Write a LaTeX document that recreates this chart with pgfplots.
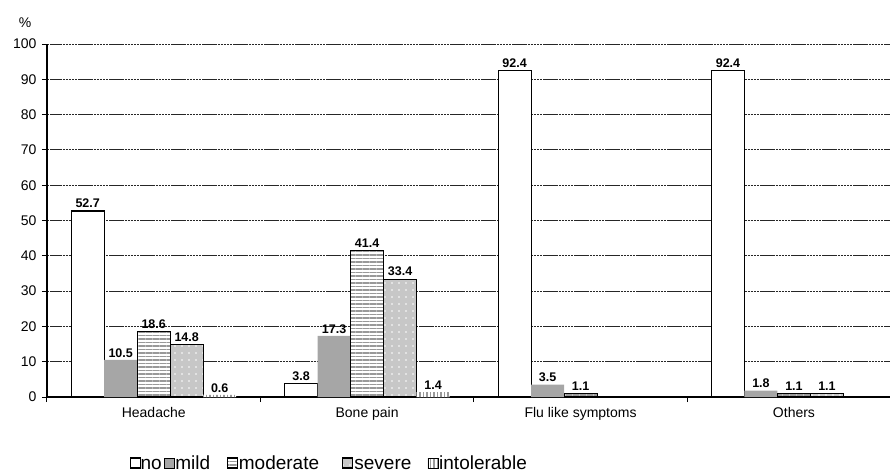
\documentclass[border=0pt]{standalone}
\usepackage{fontspec}
\setmainfont{Liberation Sans}
\usepackage{pgfplots}
\pgfplotsset{compat=1.18}
\usetikzlibrary{patterns.meta}
\newcommand{\legtxt}[2]{\raisebox{0pt}[14pt][4pt]{\makebox[#1][l]{#2}}}

\begin{document}
\begin{tikzpicture}
\begin{axis}[
  name=ax,
  at={(0pt,0pt)}, anchor=south west,
  scale only axis, width=843pt, height=353pt,
  xmin=-0.5, xmax=3.45, ymin=0, ymax=100,
  ybar=0pt, bar width=33pt,
  axis lines*=left,
  axis line style={black, line width=1.3pt},
  ytick={0,10,...,100},
  ymajorgrids,
  major grid style={black!85, line width=0.9pt, dash pattern=on 2.5pt off 0.6pt},
  tick align=outside,
  major tick length=5pt,
  tick style={black, line width=1pt},
  xtick={-0.5,0.5,1.5,2.5},
  xticklabels={},
  extra x ticks={0,1,2,3},
  extra x tick labels={Headache,Bone pain,Flu like symptoms,Others},
  extra x tick style={major tick length=0pt},
  x tick label style={font=\fontsize{14}{16}\selectfont, yshift=-7pt},
  y tick label style={font=\fontsize{14}{16}\selectfont, xshift=-2pt},
  /pgf/number format/assume math mode=true,
  nodes near coords,
  nodes near coords style={font=\fontsize{12.5}{14}\selectfont\bfseries,
     /pgf/number format/fixed, /pgf/number format/fixed zerofill,
     /pgf/number format/precision=1, inner sep=2.5pt},
  legend image code/.code={\draw[#1] (0pt,-5pt) rectangle (10pt,5pt);},
  legend style={at={(axis description cs:0.095,-0.187)}, anchor=west,
     draw=none, fill=none, legend columns=5,
     font=\fontsize{19}{22}\selectfont,
     /tikz/every even column/.append style={column sep=0pt},
     /tikz/every odd column/.append style={column sep=0pt},
     nodes={inner sep=1.2pt}},
]
\addplot[draw=black, fill=white, line width=1.1pt]
  coordinates {(0,52.7) (1,3.8) (2,92.4) (3,92.4)};
\addplot[draw=none, fill=black!35]
  coordinates {(0,10.5) (1,17.3) (2,3.5) (3,1.8)};
\addplot[draw=black, line width=1.1pt, preaction={fill=white},
  preaction={pattern={Lines[angle=0,distance=3.5pt,line width=1.6pt]}, pattern color=black!40}]
  coordinates {(0,18.6) (1,41.4) (2,1.1) (3,1.1)};
\addplot[draw=black, line width=1.1pt, preaction={fill=black!22},
  preaction={pattern={Dots[distance=7pt,radius=0.8pt]}, pattern color=white}]
  coordinates {(0,14.8) (1,33.4) (3,1.1)};
\addplot[draw=none, preaction={fill=white},
  preaction={pattern={Lines[angle=90,distance=3.5pt,line width=1.6pt]}, pattern color=black!40}]
  coordinates {(0,0.6) (1,1.4)};
\legend{\legtxt{20pt}{\kern-2pt no},\legtxt{50pt}{mild},\legtxt{102pt}{moderate},\legtxt{72pt}{severe},\legtxt{90pt}{intolerable}}
\end{axis}
\node[font=\fontsize{14}{16}\selectfont] at (ax.north west) [xshift=-22pt,yshift=21pt] {\%};
\pgfresetboundingbox
\path[use as bounding box] (-47pt,-75pt) rectangle (843pt,397pt);
\end{tikzpicture}
\end{document}
